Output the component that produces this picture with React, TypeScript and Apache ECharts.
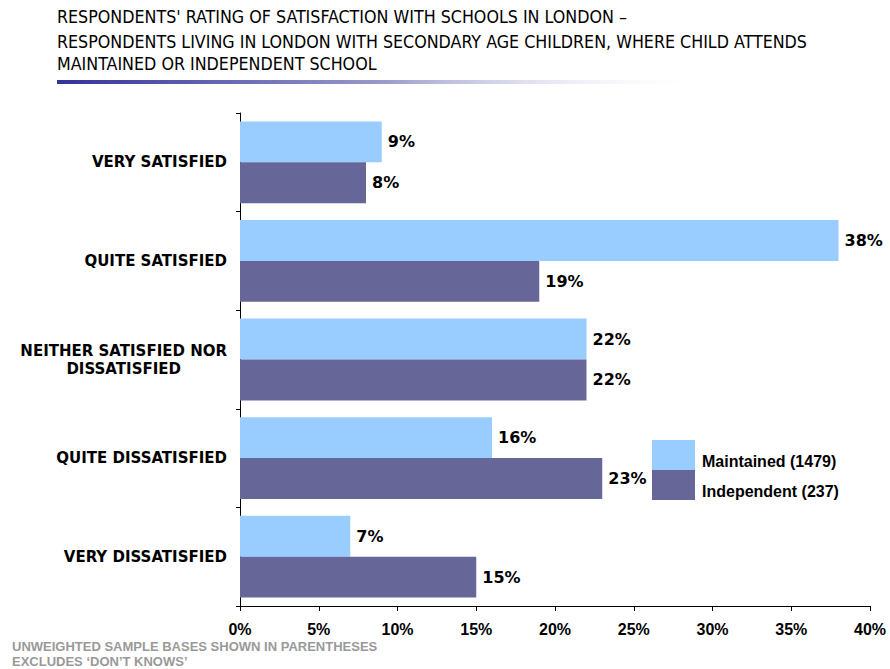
import React, { useEffect, useRef } from "react";
import * as echarts from "echarts";

const categories = [
  "VERY SATISFIED",
  "QUITE SATISFIED",
  "NEITHER SATISFIED NOR\nDISSATISFIED",
  "QUITE DISSATISFIED",
  "VERY DISSATISFIED",
];
const maintained = [9, 38, 22, 16, 7];
const independent = [8, 19, 22, 23, 15];
const seriesNames = ["Maintained (1479)", "Independent (237)"];
const titleLines = [
  "RESPONDENTS' RATING OF SATISFACTION WITH SCHOOLS IN LONDON \u2013",
  "RESPONDENTS LIVING IN LONDON WITH SECONDARY AGE CHILDREN, WHERE CHILD ATTENDS",
  "MAINTAINED OR INDEPENDENT SCHOOL",
];
const footLines = [
  "UNWEIGHTED SAMPLE BASES SHOWN IN PARENTHESES",
  "EXCLUDES \u2018DON\u2019T KNOWS\u2019",
];

export default function App() {
  const ref = useRef<HTMLDivElement>(null);
  useEffect(() => {
    if (!ref.current) return;
    const chart = echarts.init(ref.current, null, { renderer: "svg" });
    const titleFont = "'Liberation Sans Narrow', 'DejaVu Sans Condensed', sans-serif";
    const barLabel = {
      show: true,
      position: "right",
      distance: 6,
      formatter: "{c}%",
      fontFamily: "'DejaVu Sans', Verdana, sans-serif",
      fontWeight: "bold",
      fontSize: 16,
      color: "#000",
    };
    chart.setOption({
      animation: false,
      backgroundColor: "#ffffff",
      grid: { left: 240, right: 20, top: 113, bottom: 63, containLabel: false },
      legend: {
        orient: "vertical",
        left: 652,
        top: 440,
        itemWidth: 43,
        itemHeight: 30,
        itemGap: 0,
        padding: 0,
        icon: "rect",
        selectedMode: false,
        formatter: (n: string) => "{s| }\n{a|" + n + "}",
        textStyle: {
          rich: {
            s: { fontSize: 8, lineHeight: 12 },
            a: {
              fontFamily: "'Liberation Sans', Arial, sans-serif",
              fontWeight: "bold",
              fontSize: 16,
              lineHeight: 18,
              padding: [0, 0, 0, 2],
              color: "#000",
            },
          },
        },
        data: seriesNames,
      },
      xAxis: {
        type: "value",
        min: 0,
        max: 40,
        interval: 5,
        splitLine: { show: false },
        axisLine: { show: true, lineStyle: { color: "#000", width: 1 } },
        axisTick: { show: true, length: 5, lineStyle: { color: "#000" } },
        axisLabel: {
          formatter: "{value}%",
          margin: 15,
          fontFamily: "'Liberation Sans', Arial, sans-serif",
          fontWeight: "bold",
          fontSize: 16,
          color: "#000",
        },
      },
      yAxis: {
        type: "category",
        inverse: true,
        data: categories,
        axisLine: { show: true, lineStyle: { color: "#000", width: 1 } },
        axisTick: { show: true, length: 4, alignWithLabel: false, lineStyle: { color: "#000" } },
        axisLabel: {
          margin: 13,
          align: "right",
          formatter: (v: string) =>
            v
              .split("\n")
              .map((s) => "{a|" + s + "}")
              .join("\n"),
          rich: {
            a: {
              align: "center",
              fontFamily: "'DejaVu Sans', Verdana, sans-serif",
              fontWeight: "bold",
              fontSize: 15,
              lineHeight: 18,
              color: "#000",
            },
          },
        },
      },
      series: [
        {
          name: seriesNames[0],
          type: "bar",
          data: maintained,
          barGap: "0%",
          barCategoryGap: "17%",
          itemStyle: { color: "#99CCFF" },
          label: barLabel,
        },
        {
          name: seriesNames[1],
          type: "bar",
          data: independent,
          barGap: "0%",
          barCategoryGap: "17%",
          itemStyle: { color: "#666699" },
          label: barLabel,
        },
      ],
      graphic: [
        ...titleLines.map((t, i) => ({
          type: "text",
          left: 57,
          top: [8, 33, 55][i],
          style: {
            text: t,
            fontFamily: titleFont,
            fontSize: 17.7,
            fill: "#000",
          },
        })),
        {
          type: "rect",
          shape: { x: 57, y: 80, width: 650, height: 4 },
          style: {
            fill: new echarts.graphic.LinearGradient(0, 0, 1, 0, [
              { offset: 0, color: "#333399" },
              { offset: 0.5, color: "#9999cc" },
              { offset: 1, color: "rgba(255,255,255,0)" },
            ]),
          },
        },
        {
          type: "text",
          left: 12,
          top: 639,
          style: {
            text: footLines.join("\n"),
            fontFamily: "'Liberation Sans', Arial, sans-serif",
            fontWeight: "bold",
            fontSize: 13,
            lineHeight: 15,
            fill: "#999999",
          },
        },
      ],
    });
    return () => chart.dispose();
  }, []);
  return <div ref={ref} style={{ width: 890, height: 669, position: "absolute", left: 0, top: 0 }} />;
}
